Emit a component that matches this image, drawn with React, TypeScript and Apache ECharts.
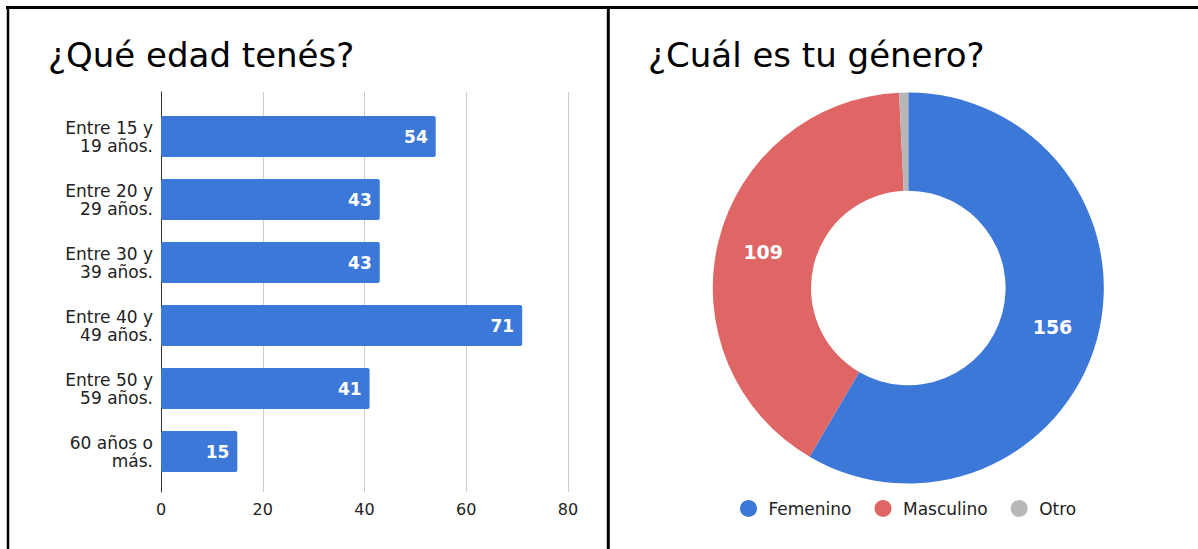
import React, { useEffect, useRef } from "react";
import * as echarts from "echarts";

const ageCategories = [
  "Entre 15 y\n19 años.",
  "Entre 20 y\n29 años.",
  "Entre 30 y\n39 años.",
  "Entre 40 y\n49 años.",
  "Entre 50 y\n59 años.",
  "60 años o\nmás.",
];
const ageValues = [54, 43, 43, 71, 41, 15];
const ageAxisMax = 80;
const ageAxisStep = 20;

const genderNames = ["Femenino", "Masculino", "Otro"];
const genderValues = [156, 109, 2];
const genderColors = ["#3c78d8", "#e06666", "#b7b7b7"];

const titleLeft = "¿Qué edad tenés?";
const titleRight = "¿Cuál es tu género?";

const FONT = "'DejaVu Sans', Verdana, sans-serif";

export default function App() {
  const ref = useRef<HTMLDivElement>(null);
  useEffect(() => {
    if (!ref.current) return;
    const chart = echarts.init(ref.current, undefined, { renderer: "svg" });
    const option: any = {
      animation: false,
      backgroundColor: "#ffffff",
      textStyle: { fontFamily: FONT },
      title: [
        {
          text: titleLeft,
          left: 43,
          top: 33,
          textStyle: { fontFamily: FONT, fontSize: 34, fontWeight: "normal", color: "#000" },
        },
        {
          text: titleRight,
          left: 643,
          top: 33,
          textStyle: { fontFamily: FONT, fontSize: 34, fontWeight: "normal", color: "#000" },
        },
      ],
      grid: [
        { left: 161, top: 92, width: 407, height: 400 },
        { left: 161, top: 105, width: 407, height: 378 },
      ],
      xAxis: [
        {
          gridIndex: 0,
          type: "value",
          min: 0,
          max: ageAxisMax,
          interval: ageAxisStep,
          axisLine: { show: false },
          axisTick: { show: false },
          splitLine: { show: true, lineStyle: { color: "#cccccc", width: 1 } },
          axisLabel: { color: "#222", fontSize: 16, fontFamily: FONT, margin: 9 },
        },
        {
          gridIndex: 1,
          type: "value",
          min: 0,
          max: ageAxisMax,
          show: false,
        },
      ],
      yAxis: [
        {
          gridIndex: 0,
          type: "value",
          min: 0,
          max: 1,
          axisLine: { show: true, lineStyle: { color: "#333", width: 1 } },
          axisTick: { show: false },
          axisLabel: { show: false },
          splitLine: { show: false },
        },
        {
          gridIndex: 1,
          type: "category",
          inverse: true,
          data: ageCategories,
          axisLine: { show: false },
          axisTick: { show: false },
          splitLine: { show: false },
          axisLabel: {
            color: "#222",
            fontSize: 17,
            lineHeight: 18,
            fontFamily: FONT,
            margin: 8,
            align: "right",
            padding: [0, 0, 5, 0],
          },
        },
      ],
      legend: {
        data: genderNames,
        left: 735,
        top: 495,
        icon: "circle",
        itemWidth: 30,
        itemHeight: 17,
        itemGap: 23,
        textStyle: { fontFamily: FONT, fontSize: 17, color: "#222" },
      },
      series: [
        {
          type: "bar",
          xAxisIndex: 1,
          yAxisIndex: 1,
          data: ageValues,
          barWidth: 41,
          itemStyle: { color: "#3c78d8", borderRadius: 2 },
          label: {
            show: true,
            position: "insideRight",
            distance: 8,
            color: "#fff",
            fontWeight: "bold",
            fontSize: 17,
            fontFamily: FONT,
          },
        },
        {
          type: "pie",
          center: [908.3, 288],
          radius: [97.3, 195.5],
          startAngle: 90,
          clockwise: true,
          minShowLabelAngle: 5,
          data: genderNames.map((n, i) => ({
            name: n,
            value: genderValues[i],
            itemStyle: { color: genderColors[i] },
          })),
          label: {
            show: true,
            position: "inside",
            color: "#fff",
            fontWeight: "bold",
            fontSize: 19,
            fontFamily: FONT,
            formatter: "{c}",
          },
          labelLine: { show: false },
          emphasis: { disabled: true },
        },
      ],
      graphic: [
        { type: "line", shape: { x1: 6, y1: 7.5, x2: 1198, y2: 7.5 }, style: { stroke: "#000", lineWidth: 3 } },
        { type: "line", shape: { x1: 8, y1: 6, x2: 8, y2: 549 }, style: { stroke: "#000", lineWidth: 2.5 } },
        { type: "line", shape: { x1: 608.3, y1: 6, x2: 608.3, y2: 549 }, style: { stroke: "#000", lineWidth: 3 } },
      ],
    };
    chart.setOption(option);
    return () => chart.dispose();
  }, []);
  return (
    <div
      ref={ref}
      style={{ position: "fixed", left: 0, top: 0, width: 1198, height: 549, background: "#fff" }}
    />
  );
}
